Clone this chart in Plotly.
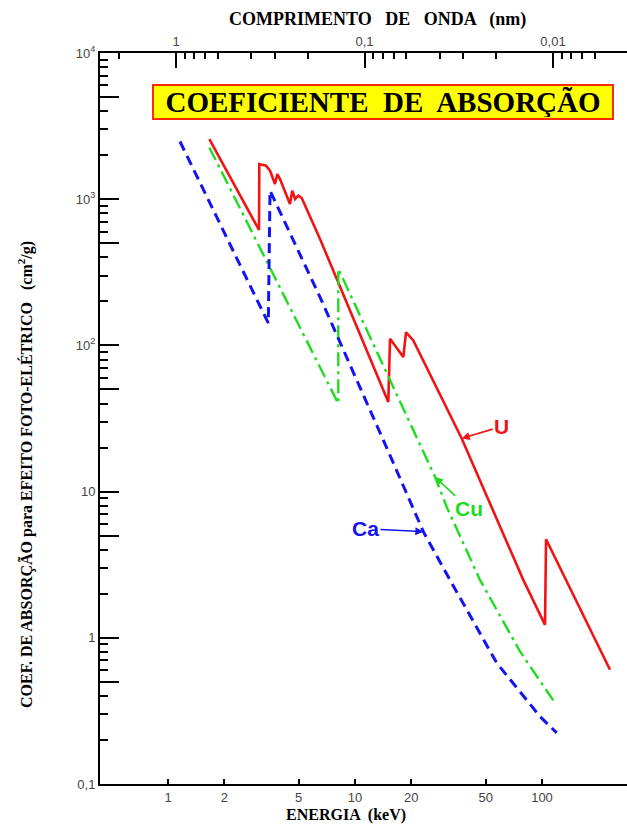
import numpy as np
import plotly.graph_objects as go

# ---------------- data ----------------
# U (urânio)
u_energy = [1.664, 3.066, 3.078, 3.342, 3.512, 3.734, 3.842, 3.972, 4.49, 4.62, 4.78, 4.98, 5.19,
            6.50, 15.07, 15.39, 18.13, 18.74, 20.5, 37.2, 79.4, 103.8, 105.1, 231.0]
u_coef = [2576, 616, 1738, 1693, 1566, 1270, 1486, 1374, 927, 1143, 1003, 1057, 1019,
          535, 41.0, 111, 83.2, 123, 108, 23.1, 2.49, 1.227, 4.72, 0.605]
# Cu (cobre)
cu_energy = [1.664, 5.52, 8.14, 8.14, 16.03, 21.4, 26.8, 30.9, 46.6, 76.3, 114.9]
cu_coef = [2259, 108, 40.0, 334, 51.9, 23.1, 12.6, 7.88, 2.49, 0.806, 0.373]
# Ca (cálcio)
ca_energy = [1.159, 3.439, 3.512, 6.50, 14.17, 23.2, 32.2, 57.3, 97.5, 119.9]
ca_coef = [2481, 142, 1143, 214, 22.5, 5.32, 2.49, 0.672, 0.290, 0.2236]

# label anchor indices on each series
u_label_idx, cu_label_idx, ca_label_idx = 19, 6, 5

# tick labels
y_tickvals = [0.1, 0.5, 1, 5, 10, 50, 100, 500, 1000, 5000, 10000]
y_ticktext = ["0,1", "", "1", "", "10", "", "10<sup>2</sup>", "", "10<sup>3</sup>", "", "10<sup>4</sup>"]
x_tickvals = [1, 2, 5, 10, 20, 50, 100]
x_ticktext = ["1", "2", "5", "10", "20", "50", "100"]
wl_tickvals = [1, 0.1, 0.01]
wl_ticktext = ["1", "0,1", "0,01"]

# ---------------- figure ----------------
W, H = 627, 824
ML, MR, MT, MB = 100, 0, 53, 40
pw, ph = W - ML - MR, H - MT - MB

RED, GREEN, BLUE = "#f01414", "#1edc1e", "#1414f0"
SERIF = "Liberation Serif, Times New Roman, serif"
SANS = "Liberation Sans, Arial, sans-serif"

fig = go.Figure()
fig.add_trace(go.Scatter(x=u_energy, y=u_coef, mode="lines", name="U",
                         line=dict(color=RED, width=2.6), hoverinfo="skip"))
fig.add_trace(go.Scatter(x=cu_energy, y=cu_coef, mode="lines", name="Cu",
                         line=dict(color=GREEN, width=2.4, dash="14px,5px,3px,5px"), hoverinfo="skip"))
fig.add_trace(go.Scatter(x=ca_energy, y=ca_coef, mode="lines", name="Ca",
                         line=dict(color=BLUE, width=3, dash="10px,6px"), hoverinfo="skip"))
# invisible trace to carry the wavelength axis
fig.add_trace(go.Scatter(x=wl_tickvals, y=[1, 1, 1], xaxis="x2", mode="markers",
                         marker=dict(opacity=0), showlegend=False, hoverinfo="skip"))

def px2paper(px, py):
    return (px - ML) / pw, (H - MB - py) / ph

def minor_vals(lo, hi):
    out = []
    for d in range(lo, hi + 1):
        for k in (2, 3, 4, 6, 7, 8, 9):
            out.append(k * 10.0 ** d)
    return out

e_left, e_right = (100 - 168) / 187, (627 - 168) / 187
fig.update_layout(
    width=W, height=H,
    margin=dict(l=ML, r=MR, t=MT, b=MB),
    paper_bgcolor="white", plot_bgcolor="white",
    showlegend=False,
    xaxis=dict(type="log", range=[e_left, e_right],
               tickvals=x_tickvals, ticktext=x_ticktext,
               ticks="inside", ticklen=5, tickwidth=2, tickcolor="black",
               showline=True, linecolor="black", linewidth=2, mirror=False,
               showgrid=False, zeroline=False,
               tickfont=dict(family=SANS, size=13, color="#444")),
    xaxis2=dict(type="log", overlaying="x", side="top", anchor="y",
                range=[(176 - 100) / 188.5, -(627 - 176) / 188.5],
                tickvals=wl_tickvals, ticktext=wl_ticktext,
                ticks="inside", ticklen=15, tickwidth=2, tickcolor="black",
                minor=dict(tickvals=minor_vals(-3, 0), ticks="inside", ticklen=6,
                           tickwidth=1.5, tickcolor="black"),
                showline=True, linecolor="black", linewidth=2,
                showgrid=False, zeroline=False,
                tickfont=dict(family=SANS, size=13, color="#444")),
    yaxis=dict(type="log", range=[-1, 4],
               tickvals=y_tickvals, ticktext=y_ticktext,
               ticks="inside", ticklen=19, tickwidth=2, tickcolor="black",
               minor=dict(tickvals=minor_vals(-1, 3), ticks="inside", ticklen=8,
                          tickwidth=1.5, tickcolor="black"),
               showline=True, linecolor="black", linewidth=2,
               showgrid=False, zeroline=False,
               tickfont=dict(family=SANS, size=13, color="#444")),
)

ann = []
# title box
bx, by = px2paper(383, 102)
ann.append(dict(xref="paper", yref="paper", x=bx, y=by, xanchor="center", yanchor="middle",
                text="<b>COEFICIENTE  DE  ABSORÇÃO</b>", showarrow=False,
                font=dict(family=SERIF, size=29, color="black"),
                bgcolor="#ffff00", bordercolor="#ff2a00", borderwidth=2,
                width=456, height=30))
# axis titles
tx, ty = px2paper(377, 20)
ann.append(dict(xref="paper", yref="paper", x=tx, y=ty, xanchor="center", yanchor="middle",
                text="<b>COMPRIMENTO   DE   ONDA   (nm)</b>", showarrow=False,
                font=dict(family=SERIF, size=18, color="black")))
bx2, by2 = px2paper(346, 815)
ann.append(dict(xref="paper", yref="paper", x=bx2, y=by2, xanchor="center", yanchor="middle",
                text="<b>ENERGIA  (keV)</b>", showarrow=False,
                font=dict(family=SERIF, size=16, color="black")))
lx, ly = px2paper(25, 475)
ann.append(dict(xref="paper", yref="paper", x=lx, y=ly, xanchor="center", yanchor="middle",
                textangle=-90,
                text="<b>COEF. DE ABSORÇÃO para EFEITO FOTO-ELÉTRICO   (cm<sup>2</sup>/g)</b>",
                showarrow=False, font=dict(family=SERIF, size=16, color="black")))

# series labels with arrows
def series_label(text, xs, ys, i, color, ax, ay):
    return dict(xref="x", yref="y", x=np.log10(xs[i]), y=np.log10(ys[i]),
                text="<b>%s</b>" % text, showarrow=True, ax=ax, ay=ay,
                arrowhead=2, arrowsize=1, arrowwidth=1.6, arrowcolor=color,
                font=dict(family=SANS, size=21, color=color))

ann.append(series_label("U", u_energy, u_coef, u_label_idx, RED, 40, -12))
ann.append(series_label("Cu", cu_energy, cu_coef, cu_label_idx, GREEN, 34, 32))
ann.append(series_label("Ca", ca_energy, ca_coef, ca_label_idx, BLUE, -58, -3))

fig.update_layout(annotations=ann)
fig.write_html("out.html")
